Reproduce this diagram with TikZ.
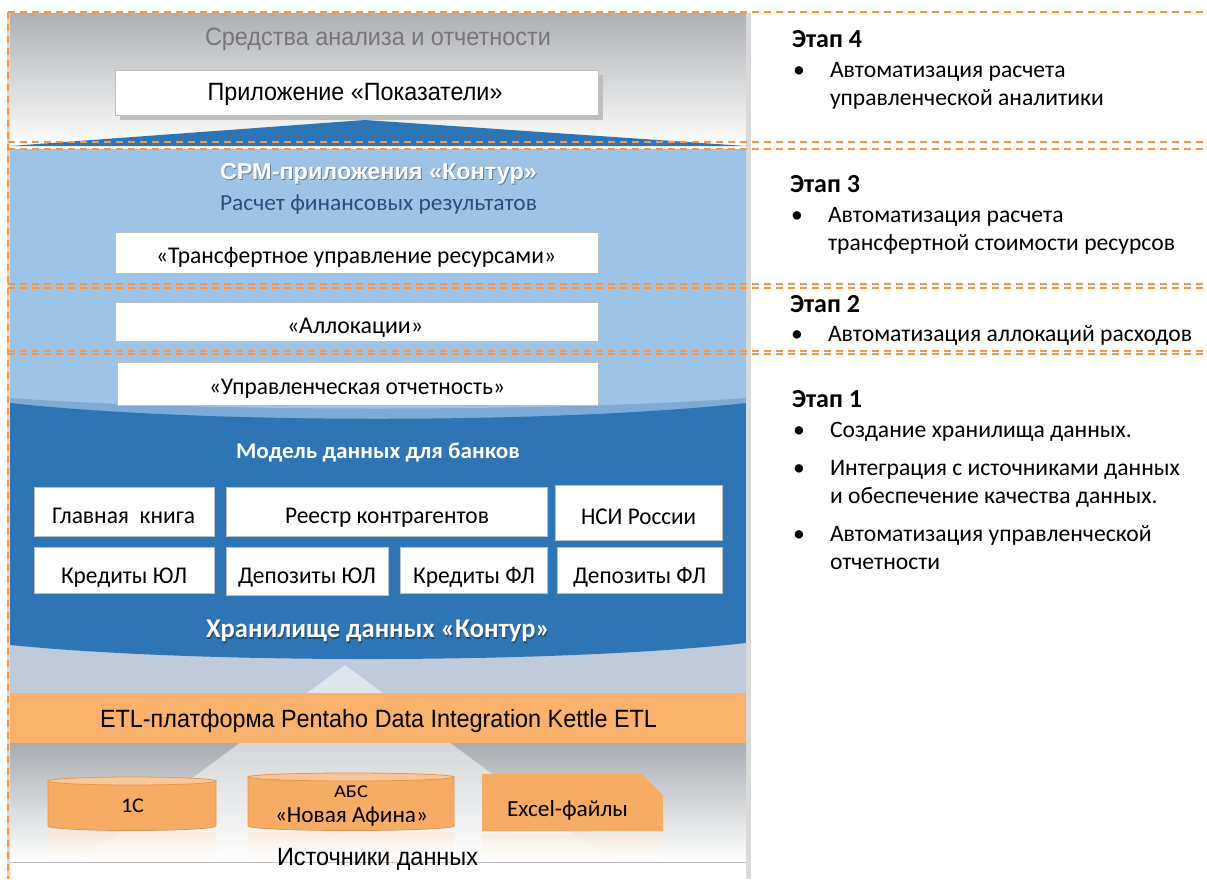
\documentclass[tikz,border=0pt]{standalone}
\usepackage{fontspec}
\usepackage{graphicx}
\setmainfont{Carlito}
\newfontfamily\arial{Liberation Sans}
\usetikzlibrary{calc}
\definecolor{orng}{HTML}{F79646}
\definecolor{dblue}{HTML}{2E75B6}
\definecolor{lblue}{HTML}{9DC3E6}
\definecolor{mblue}{HTML}{7FAAD6}
\definecolor{gblue}{HTML}{BFCBDB}
\definecolor{topgray}{HTML}{ADB0B4}
\definecolor{botgray}{HTML}{A8ADB2}
\definecolor{etlc}{HTML}{FAB16B}
\definecolor{cylc}{HTML}{F6AC64}
\definecolor{cylline}{HTML}{E8964E}
\definecolor{cyltop}{HTML}{F9C697}
\definecolor{boxline}{HTML}{BFBFBF}
\definecolor{framec}{HTML}{D9D9D9}
\definecolor{navy}{HTML}{24507F}
\definecolor{graytxt}{HTML}{767676}
\newlength\fitlen
\newsavebox\fitbox
\newcommand\fitw[2]{\sbox\fitbox{#2}\fitlen=\wd\fitbox\pgfmathsetmacro\fitr{#1/\fitlen}\scalebox{\fitr}[1]{\usebox\fitbox}}
\newcommand\fs[1]{\fontsize{#1}{#1}\selectfont}
\tikzset{
  stagedash/.style={draw=orng, line width=1.4pt, dash pattern=on 7pt off 5pt},
  wbox/.style={draw=boxline, fill=white, line width=1pt, inner sep=0pt, anchor=north west},
  txt/.style={inner sep=0pt, outer sep=0pt, anchor=base},
  rtxt/.style={inner sep=0pt, outer sep=0pt, anchor=base west, font=\fs{23.6}},
  rhead/.style={inner sep=0pt, outer sep=0pt, anchor=base west, font=\bfseries\fs{26}},
  cylbody/.style={fill=cylc, draw=cylline, line width=0.8pt},
  cyltopst/.style={fill=cyltop, draw=cylline, line width=0.8pt},
  refl/.style={top color=cylc!30!white, bottom color=white, opacity=0.6},
  tshadow/.style={text=black, opacity=0.35}
}
\begin{document}
\begin{tikzpicture}[x=1pt,y=-1pt]
\useasboundingbox (0,0) rectangle (1207,879);
\fill[white] (0,0) rectangle (1207,879);
% backgrounds
\shade[top color=topgray, bottom color=white!97!gray] (10,13) rectangle (746,142);
\fill[dblue] (10,146) -- (365,120) -- (746,146) -- cycle;
\fill[lblue] (10,149) rectangle (746,600);
\fill[gblue] (10,600) rectangle (746,693);
\shade[top color=botgray, bottom color=white] (10,743) rectangle (746,862);
\fill[white] (10,862) rectangle (746,879);
\draw[boxline, line width=0.8pt] (10,862) -- (746,862);
\fill[white, opacity=0.5] (345,665) -- (611,862) -- (79,862) -- cycle;
\fill[mblue] (10,398) .. controls (200,412) and (556,412) .. (746,398) -- (746,600) -- (10,600) -- cycle;
\fill[dblue] (10,403) .. controls (200,424) and (556,424) .. (746,403) -- (746,643) .. controls (556,664) and (200,664) .. (10,645) -- cycle;
\fill[etlc] (10,693) rectangle (746,743);
% frame
\draw[framec, line width=3pt] (8.5,13) -- (8.5,879);
\draw[framec, line width=5pt] (748.5,13) -- (748.5,879);
% top block
\node[txt, text=graytxt] (ttl) at (378,45) {\fitw{346}{\arial\fs{25}Средства анализа и отчетности}};
\fill[boxline] (120,75) rectangle (603,120);
\node[wbox, minimum width=483pt, minimum height=45pt] (app) at (115,70) {};
\node[txt] (appt) at (355,100.5) {\fitw{295}{\arial\fs{25}Приложение «Показатели»}};
% CPM block
\node[txt, tshadow] (cpms) at (379.5,180.5) {\fitw{317}{\arial\bfseries\fs{23}СРМ-приложения «Контур»}};
\node[txt, text=white] (cpm) at (378.5,179) {\fitw{317}{\arial\bfseries\fs{23}СРМ-приложения «Контур»}};
\node[txt, text=navy] (fin) at (378.5,210) {\fitw{317}{\fs{23}Расчет финансовых результатов}};
\node[wbox, minimum width=483pt, minimum height=41pt] (tru) at (115,232) {};
\node[txt] (trut) at (356,263) {\fitw{400}{\fs{24}«Трансфертное управление ресурсами»}};
\node[wbox, minimum width=483pt, minimum height=39pt] (all) at (115,302) {};
\node[txt] (allt) at (355,333) {\fitw{136}{\fs{24}«Аллокации»}};
\node[wbox, minimum width=481pt, minimum height=43pt] (upr) at (117,362) {};
\node[txt] (uprt) at (357,394) {\fitw{296}{\fs{24}«Управленческая отчетность»}};
% data model
\node[txt, text=white] (mod) at (378,458) {\fitw{284}{\bfseries\fs{22.5}Модель данных для банков}};
\node[wbox, minimum width=180pt, minimum height=49pt] (glk) at (34,487) {};
\node[wbox, minimum width=321pt, minimum height=49pt] (ree) at (226,487) {};
\node[wbox, minimum width=167pt, minimum height=55pt] (nsi) at (555,485) {};
\node[wbox, minimum width=180pt, minimum height=46pt] (kul) at (34,547) {};
\node[wbox, minimum width=162pt, minimum height=48pt] (dul) at (226,547) {};
\node[wbox, minimum width=147pt, minimum height=46pt] (kfl) at (400,547) {};
\node[wbox, minimum width=165pt, minimum height=46pt] (dfl) at (557,547) {};
\node[txt] (glkt) at (123.5,523) {\fitw{143}{\fs{24}Главная~ книга}};
\node[txt] (reet) at (387,523) {\fitw{204}{\fs{24}Реестр контрагентов}};
\node[txt] (nsit) at (638.5,524) {\fitw{115}{\fs{24}НСИ России}};
\node[txt] (kult) at (124,583) {\fitw{126}{\fs{24}Кредиты ЮЛ}};
\node[txt] (dult) at (307,583) {\fitw{138}{\fs{24}Депозиты ЮЛ}};
\node[txt] (kflt) at (474,583) {\fitw{122}{\fs{24}Кредиты ФЛ}};
\node[txt] (dflt) at (639.5,583) {\fitw{133}{\fs{24}Депозиты ФЛ}};
\node[txt, tshadow] (hrs) at (379,639) {\fitw{344}{\bfseries\fs{27}Хранилище данных «Контур»}};
\node[txt, text=white] (hr) at (378,637.5) {\fitw{344}{\bfseries\fs{27}Хранилище данных «Контур»}};
% ETL
\node[txt] (etl) at (378.5,727) {\fitw{557}{\arial\fs{25}ETL-платформа Pentaho Data Integration Kettle ETL}};
% sources
\shade[refl] (48,832) rectangle (216,858);
\shade[refl] (248,832) rectangle (454,858);
\shade[refl] (482,833) rectangle (663,858);
\filldraw[cylbody] (48,781) -- (48,826) arc[start angle=180, end angle=0, x radius=84, y radius=4.5] -- (216,781) -- cycle;
\filldraw[cyltopst] (132,781) ellipse [x radius=84, y radius=4];
\filldraw[cylbody] (248,777) -- (248,826) arc[start angle=180, end angle=0, x radius=103, y radius=4.5] -- (454,777) -- cycle;
\filldraw[cyltopst] (351,777) ellipse [x radius=103, y radius=4];
\fill[cylc] (482,774) -- (642,774) -- (663,795) -- (663,831) -- (482,831) -- cycle;
\node[txt] (c1) at (132.5,812) {\fitw{23}{\fs{21}1С}};
\node[txt] (abs) at (351,797) {\fitw{34}{\fs{18}АБС}};
\node[txt] (afn) at (351.5,822) {\fitw{153}{\fs{23}«Новая Афина»}};
\node[txt] (xls) at (567.5,816) {\fitw{121}{\fs{23}Excel-файлы}};
\node[txt] (src) at (377.5,865.5) {\fitw{201}{\arial\fs{25}Источники данных}};
% stage dashed frames
\draw[stagedash] (8,12) -- (1207,12);
\draw[stagedash] (8,12) -- (8,879);
\draw[stagedash] (8,142) -- (1207,142);
\draw[stagedash] (8,149) -- (1207,149);
\draw[stagedash] (8,284) -- (1207,284);
\draw[stagedash] (8,288) -- (1207,288);
\draw[stagedash] (8,351) -- (1207,351);
\draw[stagedash] (8,354) -- (1207,354);
% right text
\node[rhead] (s4) at (792,47) {Этап 4};
\node[rtxt] (b4) at (793,77) {•};
\node[rtxt] (s4a) at (830,77) {Автоматизация расчета};
\node[rtxt] (s4b) at (830,105) {управленческой аналитики};
\node[rhead] (s3) at (790,192) {Этап 3};
\node[rtxt] (b3) at (791,222) {•};
\node[rtxt] (s3a) at (828,222) {Автоматизация расчета};
\node[rtxt] (s3b) at (828,250) {трансфертной стоимости ресурсов};
\node[rhead] (s2) at (790,312) {Этап 2};
\node[rtxt] (b2) at (791,341) {•};
\node[rtxt] (s2a) at (828,341) {Автоматизация аллокаций расходов};
\node[rhead] (s1) at (792,407) {Этап 1};
\node[rtxt] (b1a) at (793,437) {•};
\node[rtxt] (s1a) at (830,437) {Создание хранилища данных.};
\node[rtxt] (b1b) at (793,475) {•};
\node[rtxt] (s1b) at (830,475) {Интеграция с источниками данных};
\node[rtxt] (s1c) at (830,503) {и обеспечение качества данных.};
\node[rtxt] (b1c) at (793,541) {•};
\node[rtxt] (s1d) at (830,541) {Автоматизация управленческой};
\node[rtxt] (s1e) at (830,569) {отчетности};
\end{tikzpicture}
\end{document}
